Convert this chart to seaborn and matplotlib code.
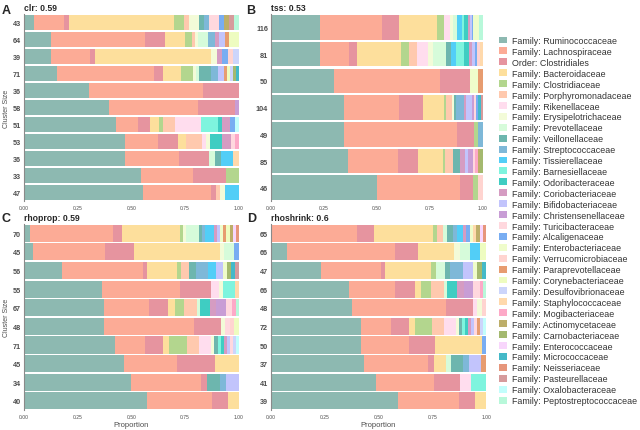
import numpy as np
import pandas as pd
import matplotlib
matplotlib.use("Agg")
import matplotlib.pyplot as plt
from matplotlib.patches import Patch
import seaborn as sns

# ------------------------------------------------------------------
# Legend / family definitions
# ------------------------------------------------------------------

KEYS = ["rumi", "lach", "clos", "bact", "cdia", "porp", "rike", "erys", "prev",
        "veil", "strp", "tiss", "barn", "odor", "cori", "bifi", "chri", "turi",
        "alca", "entb", "verr", "parp", "cory", "desu", "stap", "mogi", "acti",
        "carn", "entc", "micr", "neis", "past", "oxal", "pept"]

LABELS = [
    "Family: Ruminococcaceae", "Family: Lachnospiraceae", "Order: Clostridiales",
    "Family: Bacteroidaceae", "Family: Clostridiaceae", "Family: Porphyromonadaceae",
    "Family: Rikenellaceae", "Family: Erysipelotrichaceae", "Family: Prevotellaceae",
    "Family: Veillonellaceae", "Family: Streptococcaceae", "Family: Tissierellaceae",
    "Family: Barnesiellaceae", "Family: Odoribacteraceae", "Family: Coriobacteriaceae",
    "Family: Bifidobacteriaceae", "Family: Christensenellaceae", "Family: Turicibacteraceae",
    "Family: Alcaligenaceae", "Family: Enterobacteriaceae", "Family: Verrucomicrobiaceae",
    "Family: Paraprevotellaceae", "Family: Corynebacteriaceae", "Family: Desulfovibrionaceae",
    "Family: Staphylococcaceae", "Family: Mogibacteriaceae", "Family: Actinomycetaceae",
    "Family: Carnobacteriaceae", "Family: Enterococcaceae", "Family: Micrococcaceae",
    "Family: Neisseriaceae", "Family: Pasteurellaceae", "Family: Oxalobacteraceae",
    "Family: Peptostreptococcaceae",
]

COLORS = [
    "#8DB9B1", "#FCAB96", "#E6949F", "#FDDF9C", "#B3D68E", "#FFC9AE", "#FFDDEE",
    "#F3FBD8", "#D6FBDA", "#6DB6AE", "#7EB8D8", "#52CEF7", "#7EF4DE", "#3FCDC2",
    "#D59CC2", "#C2C4FC", "#C89DD5", "#FFD8DE", "#78ADF2", "#EFFCCB", "#FFD4D0",
    "#E79C70", "#EEFCC0", "#CCD5FB", "#FFD9AC", "#FDA9C7", "#BDAE69", "#A4B96F",
    "#F8D6FC", "#44B9C8", "#E6967B", "#D69B9C", "#C2FEFC", "#B8F8DA",
]

# ------------------------------------------------------------------
# Cluster composition (member counts per family), top row first
# ------------------------------------------------------------------

clr_sizes = [43, 64, 39, 71, 36, 58, 51, 53, 36, 33, 47]
clr_counts = [
    dict(rumi=2, lach=6, clos=1, bact=21, cdia=2, porp=1, erys=2, veil=1, strp=1, turi=2, alca=1, acti=1, past=1, pept=1),
    dict(rumi=8, lach=28, clos=6, bact=6, cdia=2, porp=1, erys=1, prev=3, strp=2, cori=1, bifi=2, cory=3, parp=1),
    dict(rumi=5, lach=7, clos=1, bact=21, erys=1, cori=1, alca=1, verr=1, desu=1),
    dict(rumi=11, lach=32, clos=3, bact=6, cdia=4, erys=1, prev=1, veil=4, strp=2, bifi=2, parp=1, cory=1, desu=1, carn=1, micr=1),
    dict(rumi=11, lach=19, clos=6),
    dict(rumi=23, lach=24, clos=10, chri=1),
    dict(rumi=22, lach=5, clos=3, bact=2, cdia=1, porp=3, rike=6, barn=4, odor=1, cori=2, alca=1, oxal=1),
    dict(rumi=25, lach=8, clos=5, bact=2, porp=4, rike=1, erys=1, odor=3, cori=2, turi=1, mogi=1),
    dict(rumi=17, lach=9, clos=5, prev=1, veil=1, tiss=2, stap=1),
    dict(rumi=18, lach=8, clos=5, cdia=2),
    dict(rumi=26, lach=15, clos=1, porp=1, erys=1, tiss=3),
]

tss_sizes = [116, 81, 50, 104, 49, 85, 46]
tss_counts = [
    dict(rumi=27, lach=34, clos=9, bact=21, cdia=4, rike=3, erys=2, prev=2, tiss=3, barn=1, odor=2, cori=1, bifi=1, alca=1, entb=3, pept=2),
    dict(rumi=19, lach=11, clos=3, bact=17, cdia=3, porp=3, rike=4, erys=2, prev=5, veil=2, tiss=2, barn=3, odor=2, cori=1, bifi=1, alca=1, verr=1, stap=1),
    dict(rumi=15, lach=25, clos=7, entb=2, parp=1),
    dict(rumi=36, lach=27, clos=12, bact=10, cdia=1, porp=3, erys=1, veil=1, strp=4, cori=1, bifi=3, chri=1, turi=1, alca=1, micr=1, past=1),
    dict(rumi=17, lach=26, clos=4, cdia=1, strp=1),
    dict(rumi=31, lach=20, clos=8, bact=10, cdia=1, porp=3, veil=3, cori=2, bifi=1, chri=2, turi=1, mogi=1, acti=1, carn=1),
    dict(rumi=23, lach=18, clos=3, cdia=1, verr=1),
]

rhoprop_sizes = [70, 45, 56, 55, 67, 48, 71, 45, 34, 40]
rhoprop_counts = [
    dict(rumi=2, lach=27, clos=3, bact=19, cdia=1, erys=1, prev=4, veil=1, strp=1, tiss=3, cori=1, bifi=1, entb=1, parp=1, cory=1, acti=1, entc=1, neis=1),
    dict(rumi=2, lach=15, clos=6, bact=18, erys=1, prev=2, alca=1),
    dict(rumi=10, lach=21, clos=1, bact=8, cdia=1, porp=2, veil=2, strp=3, tiss=2, bifi=2, entb=1, carn=1, micr=1, past=1),
    dict(rumi=20, lach=20, clos=8, rike=2, erys=1, barn=3, stap=1),
    dict(rumi=25, lach=14, clos=6, bact=2, cdia=3, porp=4, prev=1, odor=3, cori=2, chri=3, turi=2, mogi=1, pept=1),
    dict(rumi=18, lach=20, clos=6, erys=1, turi=1, verr=1, cory=1),
    dict(rumi=30, lach=10, clos=6, bact=2, cdia=6, porp=4, rike=4, erys=1, veil=1, barn=1, odor=1, cori=1, bifi=1, turi=1, desu=1, oxal=1),
    dict(rumi=21, lach=11, clos=8, bact=5),
    dict(rumi=17, lach=11, clos=1, veil=2, strp=1, bifi=2),
    dict(rumi=23, lach=12, clos=3, bact=2),
]

rhoshrink_sizes = [65, 66, 47, 66, 48, 72, 50, 37, 41, 39]
rhoshrink_counts = [
    dict(lach=26, clos=5, bact=18, cdia=1, porp=2, prev=1, veil=2, strp=1, tiss=2, cori=1, alca=1, entb=1, stap=1, acti=1, entc=1, neis=1),
    dict(rumi=5, lach=33, clos=7, bact=11, erys=2, prev=3, tiss=3, cory=2),
    dict(rumi=11, lach=13, clos=1, bact=10, cdia=1, prev=2, veil=1, strp=3, bifi=2, entb=1, carn=1, micr=1),
    dict(rumi=24, lach=14, clos=6, bact=2, cdia=3, porp=4, prev=1, odor=3, cori=2, chri=3, turi=2, mogi=1, pept=1),
    dict(rumi=18, lach=21, clos=6, rike=1, erys=1, verr=1),
    dict(rumi=30, lach=10, clos=6, bact=2, cdia=6, porp=4, rike=4, erys=1, veil=1, barn=1, odor=1, cori=1, bifi=1, turi=1, parp=1, desu=1, oxal=1),
    dict(rumi=21, lach=11, clos=6, bact=11, alca=1),
    dict(rumi=16, lach=11, clos=1, bact=2, prev=1, veil=2, strp=1, bifi=2, parp=1),
    dict(rumi=20, lach=11, clos=5, rike=2, barn=3),
    dict(rumi=23, lach=11, clos=3, bact=2),
]

# ------------------------------------------------------------------
# Plot
# ------------------------------------------------------------------

sns.set_theme(style="white")
plt.rcParams["font.family"] = ["Liberation Sans", "DejaVu Sans"]

TEXT_GRAY = "#4D4D4D"


def draw_panel(ax, sizes, counts, title, show_ylabel, show_xlabel):
    rows = [f"r{i}" for i in range(len(sizes))]
    df = pd.DataFrame(counts).reindex(columns=KEYS).fillna(0)
    prop = df.div(np.array(sizes, dtype=float), axis=0)
    cum = prop.cumsum(axis=1)

    # stacked bars: draw cumulative totals from the right-most family down
    for key, color in reversed(list(zip(KEYS, COLORS))):
        sns.barplot(x=cum[key].values, y=rows, orient="h", color=color,
                    saturation=1, width=0.92, errorbar=None, linewidth=0, ax=ax)

    ax.set_xlim(0, 1)
    ax.set_ylim(len(sizes) - 0.5, -0.5)
    ax.set_xticks([0, 0.25, 0.5, 0.75, 1.0])
    ax.set_xticklabels(["0.00", "0.25", "0.50", "0.75", "1.00"])
    ax.set_yticks(range(len(sizes)))
    ax.set_yticklabels([str(s) for s in sizes])
    ax.tick_params(axis="x", labelsize=3.6, colors=TEXT_GRAY, length=1.5, width=0.5, pad=1)
    ax.tick_params(axis="y", labelsize=5.2, colors=TEXT_GRAY, length=0, pad=2)
    for lab in ax.get_yticklabels():
        lab.set_fontweight("bold")

    sns.despine(ax=ax, top=True, right=True, bottom=True, left=False)
    ax.spines["left"].set_color("#8A8A8A")
    ax.spines["left"].set_linewidth(0.8)

    ax.set_title(title, loc="left", fontsize=6.2, fontweight="bold", pad=3)
    ax.set_ylabel("Cluster Size" if show_ylabel else "", fontsize=5, color=TEXT_GRAY, labelpad=2)
    ax.set_xlabel("Proportion" if show_xlabel else "", fontsize=5.5, color=TEXT_GRAY, labelpad=2)


fig = plt.figure(figsize=(6.4, 4.31), dpi=100)

ax_a = fig.add_axes([0.037, 0.531, 0.336, 0.434])
ax_b = fig.add_axes([0.423, 0.531, 0.331, 0.434])
ax_c = fig.add_axes([0.037, 0.046, 0.336, 0.432])
ax_d = fig.add_axes([0.423, 0.046, 0.337, 0.432])

draw_panel(ax_a, clr_sizes, clr_counts, "clr: 0.59", True, False)
draw_panel(ax_b, tss_sizes, tss_counts, "tss: 0.53", False, False)
draw_panel(ax_c, rhoprop_sizes, rhoprop_counts, "rhoprop: 0.59", True, True)
draw_panel(ax_d, rhoshrink_sizes, rhoshrink_counts, "rhoshrink: 0.6", False, True)

for letter, x, y in [("A", 2, 11), ("B", 246, 11), ("C", 2, 219), ("D", 247, 219)]:
    fig.text(x / 640, 1 - y / 431, letter, fontsize=9, fontweight="bold",
             ha="left", va="center")

handles = [Patch(facecolor=c, edgecolor="none", label=l) for c, l in zip(COLORS, LABELS)]
fig.legend(handles=handles, loc="upper left", bbox_to_anchor=(0.779, 0.914),
           frameon=False, fontsize=6.4, handlelength=0.92, handleheight=0.82,
           handletextpad=0.55, labelspacing=0.215, borderpad=0, borderaxespad=0,
           labelcolor="#333333")

fig.savefig("out.png", dpi=100)
